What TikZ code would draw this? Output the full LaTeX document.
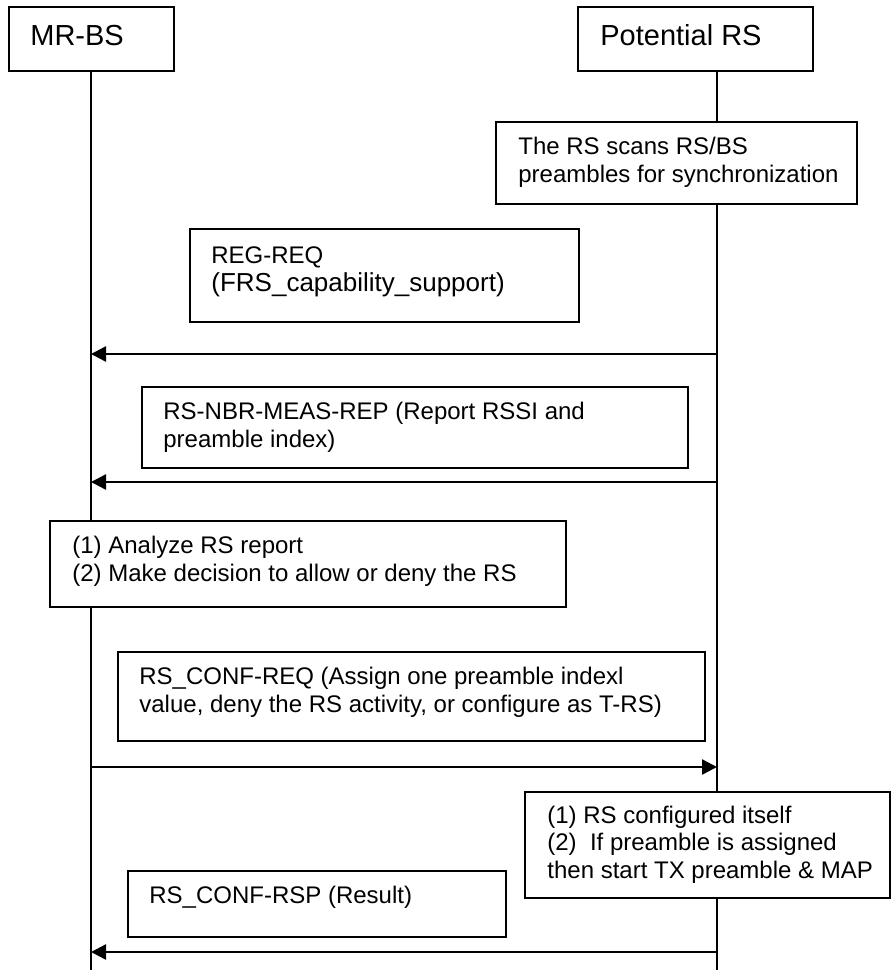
\documentclass[tikz,border=0pt]{standalone}
\usepackage{fontspec}
\setmainfont{Liberation Sans}
\usetikzlibrary{arrows.meta}
\tikzset{
    entity/.style={
        draw, fill=white, line width=0.8pt,
        inner sep=0pt, outer sep=0pt,
        anchor=north west, minimum height=32pt
    },
    entitytext/.style={
        anchor=base west, inner sep=0pt,
        font=\fontsize{14.5}{17}\selectfont
    },
    % boxes with the notes and the message names
    notebox/.style={
        draw, fill=white, line width=0.8pt,
        inner sep=0pt, outer sep=0pt, anchor=north west
    },
    notetext/.style={
        anchor=base west, align=left, inner sep=0pt,
        font=\fontsize{12}{13.75}\selectfont
    },
    lifeline/.style={line width=0.6pt, black},
    msgarrow/.style={
        line width=1.2pt, black,
        -{Triangle[length=7.5pt, width=7.5pt]}
    }
}
\begin{document}
\begin{tikzpicture}[x=0.5pt, y=-0.5pt]
    \useasboundingbox (0,0) rectangle (892,970);
    \node[entity, minimum width=82.5pt] (bs) at (9,7) {};
    \node[entitytext] (bslabel) at ([shift={(21,38)}]bs.north west) {MR-BS};
    \node[entity, minimum width=117.5pt] (rs) at (578,7) {};
    \node[entitytext] (rslabel) at ([shift={(22,38)}]rs.north west) {Potential RS};
    \coordinate (bsend) at (91,970);
    \coordinate (rsend) at (717,970);
    \draw[lifeline] (bs.south -| bsend) -- (bsend);
    \draw[lifeline] (rs.south -| rsend) -- (rsend);

    % the text is anchored at the baseline of its last line
    \node[notebox, minimum width=180.5pt, minimum height=41pt] (scan) at (496,122) {};
    \node[notetext] (scantext) at ([shift={(22,60)}]scan.north west)
        {The RS scans RS/BS\\preambles for synchronization};

    \node[notebox, minimum width=194.5pt, minimum height=46.5pt] (reg) at (190,229) {};
    \node[notetext] (regtext) at ([shift={(21,62)}]reg.north west)
        {REG-REQ\\[0pt]{\fontsize{13}{15}\selectfont (FRS\_capability\_support)}};

    \node[notebox, minimum width=273pt, minimum height=40.5pt] (nbr) at (142,387) {};
    \node[notetext] (nbrtext) at ([shift={(21,60)}]nbr.north west)
        {RS-NBR-MEAS-REP (Report RSSI and\\preamble index)};

    \node[notebox, minimum width=258pt, minimum height=43pt] (ana) at (50,521) {};
    \node[notetext] (anatext) at ([shift={(22,60)}]ana.north west)
        {(1) Analyze RS report\\(2) Make decision to allow or deny the RS};

    \node[notebox, minimum width=293.5pt, minimum height=44.5pt] (confreq) at (118,652) {};
    \node[notetext] (confreqtext) at ([shift={(21,60)}]confreq.north west)
        {RS\_CONF-REQ (Assign one preamble indexl\\value, deny the RS activity, or configure as T-RS)};

    \node[notebox, minimum width=182.5pt, minimum height=53pt] (config) at (525,792) {};
    \node[notetext] (configtext) at ([shift={(22,86)}]config.north west)
        {(1) RS configured itself\\(2)\ \ If preamble is assigned\\then start TX preamble \& MAP};

    \node[notebox, minimum width=189pt, minimum height=33pt] (rsp) at (128,871) {};
    \node[notetext] (rsptext) at ([shift={(21,32)}]rsp.north west) {RS\_CONF-RSP (Result)};

    % messages
    \coordinate (bs1) at (91,354);  \coordinate (rs1) at (717,354);
    \coordinate (bs2) at (91,482);  \coordinate (rs2) at (717,482);
    \coordinate (bs3) at (91,767);  \coordinate (rs3) at (717,767);
    \coordinate (bs4) at (91,952);  \coordinate (rs4) at (717,952);
    \draw[msgarrow] (rs1) -- (bs1);
    \draw[msgarrow] (rs2) -- (bs2);
    \draw[msgarrow] (bs3) -- (rs3);
    \draw[msgarrow] (rs4) -- (bs4);
\end{tikzpicture}
\end{document}
